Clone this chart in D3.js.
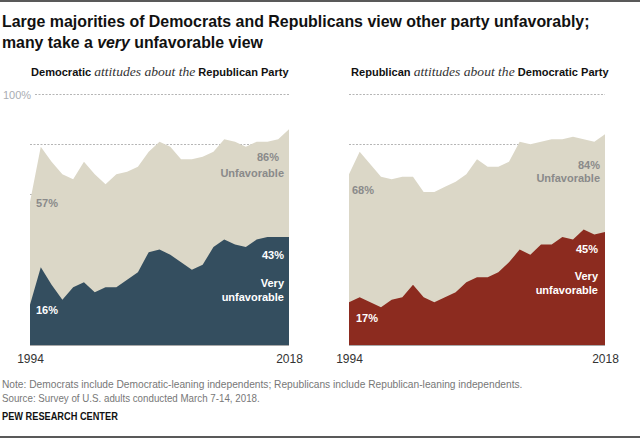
<!DOCTYPE html>
<html>
<head>
<meta charset="utf-8">
<script src="https://cdn.jsdelivr.net/npm/d3@7"></script>
<style>
  body { margin: 0; background: #fff; }
  svg { display: block; font-family: "Liberation Sans", Arial, sans-serif; }
</style>
</head>
<body>
<svg id="chart" width="640" height="439"></svg>
<script>
// survey years (one point per year in the chart)
var years = [1994,1995,1996,1997,1998,1999,2000,2001,2002,2003,2004,2005,2006,
             2007,2008,2009,2010,2011,2012,2013,2014,2015,2016,2017,2018];

// Democrats about the Republican Party
var demUnfav = [57,79,73,68,66,73,68,64,68,69,71,77,81,79,74,74,75,77,82,81,79,81,81,82,86];
var demVery  = [16,31,24,18,23,25,21,23,23,26,29,37,38,36,33,30,32,39,42,40,39,42,43,43,43];

// Republicans about the Democratic Party
var repUnfav = [68,77,72,67,66,67,67,61,61,63,65,68,74,71,71,73,81,80,81,82,82,83,82,81,84];
var repVery  = [17,19,17,15,18,19,24,19,17,19,21,25,27,27,29,33,38,36,40,40,43,42,46,44,45];

var gridVals = [20,40,60,80,100];
var yearTicks = [1994,2018];

var beige = "#dbd7c7";
var svg = d3.select("#chart");

// stretch/squeeze a text to the width it has in the picture
function fit(t, x, y, w){
	var cur = t.node().getComputedTextLength();
	t.attr("x",0).attr("y",0).attr("transform","translate("+x+","+y+") scale("+(w/cur)+",1)");
}

svg.append("line").attr("x1",0).attr("x2",640).attr("y1",1).attr("y2",1)
	.attr("stroke","#222").attr("stroke-width",1.5);
svg.append("line").attr("x1",0).attr("x2",640).attr("y1",437).attr("y2",437)
	.attr("stroke","#222").attr("stroke-width",1.5);

//title
var t1 = svg.append("text").attr("font-size",16).attr("font-weight","bold").attr("fill","#111")
	.text("Large majorities of Democrats and Republicans view other party unfavorably;");
fit(t1, 2, 27, 588);
var t2 = svg.append("text").attr("font-size",16).attr("font-weight","bold").attr("fill","#111");
t2.append("tspan").text("many take a ");
t2.append("tspan").attr("font-style","italic").text("very");
t2.append("tspan").text(" unfavorable view");
fit(t2, 2, 48, 261);

var panels = [
	{x0:30, x1:289, who:"Democratic", about:"Republican Party", unfav:demUnfav, very:demVery, col:"#344e5f",
	 sub:[31,258], gridFrom:{100:35}, showTick:true,
	 startU:[36,207], startV:[36,314], endU:[279,161], endUl:[284,177], endV:[284,259], endVl:[284,287]},
	{x0:349, x1:605, who:"Republican", about:"Democratic Party", unfav:repUnfav, very:repVery, col:"#8c2b1f",
	 sub:[351,258], gridFrom:{}, showTick:false,
	 startU:[352,194], startV:[356,322], endU:[600,169], endUl:[600,182], endV:[598,253], endVl:[598,280]}
];

panels.forEach(function(p){
	var x = d3.scaleLinear().domain([years[0], years[years.length-1]]).range([p.x0, p.x1]);
	var y = d3.scaleLinear().domain([0,100]).range([345,94]);
	var g = svg.append("g");

	// subtitle
	var st = g.append("text").attr("font-size",11).attr("font-weight","bold").attr("fill","#111");
	st.append("tspan").text(p.who+" ");
	st.append("tspan").attr("font-family","'Liberation Serif', serif").attr("font-style","italic")
		.attr("font-weight","normal").attr("font-size",13.5).attr("fill","#333").text("attitudes about the");
	st.append("tspan").text(" "+p.about);
	fit(st, p.sub[0], 76, p.sub[1]);

	// grid
	g.selectAll(".grid").data(gridVals).enter().append("line")
		.attr("x1",function(d){return p.gridFrom[d] || p.x0;}).attr("x2",p.x1)
		.attr("y1",function(d){return Math.round(y(d))+0.5;}).attr("y2",function(d){return Math.round(y(d))+0.5;})
		.attr("stroke","#b5b5b5").attr("stroke-width",1).attr("stroke-dasharray","2,1.5");
	if (p.showTick) {
		g.append("text").attr("x",3).attr("y",y(100)+4.5).attr("font-size",11).attr("fill","#a9adb3").text("100%");
	}

	var rows = years.map(function(yr,i){return {year:yr, u:p.unfav[i], v:p.very[i]};});
	var areaU = d3.area().x(function(d){return x(d.year);}).y0(y(0)).y1(function(d){return y(d.u);});
	var areaV = d3.area().x(function(d){return x(d.year);}).y0(y(0)).y1(function(d){return y(d.v);});
	g.append("path").datum(rows).attr("d",areaU).attr("fill",beige);
	g.append("path").datum(rows).attr("d",areaV).attr("fill",p.col);
	g.append("line").attr("x1",p.x0).attr("x2",p.x1).attr("y1",y(0)+0.5).attr("y2",y(0)+0.5)
		.attr("stroke","#a8a8a8").attr("stroke-width",1);

	// year labels
	var xAxis = d3.axisBottom(x).tickValues(yearTicks).tickFormat(d3.format("d")).tickSize(0);
	var ax = g.append("g").attr("transform","translate(0,351)").call(xAxis);
	ax.select(".domain").remove();
	ax.selectAll("text").attr("font-size",12).attr("fill","#333").attr("font-family","'Liberation Sans', Arial, sans-serif");

	// value labels
	var n = years.length-1;
	var lab = function(pos, txt, fill, anchor){
		g.append("text").attr("x",pos[0]).attr("y",pos[1]).attr("text-anchor",anchor)
			.attr("font-size",11).attr("font-weight","bold").attr("fill",fill).text(txt);
	};
	lab(p.startU, p.unfav[0]+"%", "#8a8a8a", "start");
	lab(p.startV, p.very[0]+"%", "#fff", "start");
	lab(p.endU, p.unfav[n]+"%", "#8a8a8a", "end");
	lab(p.endUl, "Unfavorable", "#8a8a8a", "end");
	lab(p.endV, p.very[n]+"%", "#fff", "end");
	lab(p.endVl, "Very", "#fff", "end");
	lab([p.endVl[0], p.endVl[1]+14], "unfavorable", "#fff", "end");
});

//footer
var f1 = svg.append("text").attr("font-size",10).attr("fill","#777")
	.text("Note: Democrats include Democratic-leaning independents; Republicans include Republican-leaning independents.");
fit(f1, 2, 388, 521);
var f2 = svg.append("text").attr("font-size",10).attr("fill","#777")
	.text("Source: Survey of U.S. adults conducted March 7-14, 2018.");
fit(f2, 2, 402, 258);
var f3 = svg.append("text").attr("font-size",10).attr("font-weight","bold").attr("fill","#111")
	.text("PEW RESEARCH CENTER");
fit(f3, 2, 420, 116);
</script>
</body>
</html>
